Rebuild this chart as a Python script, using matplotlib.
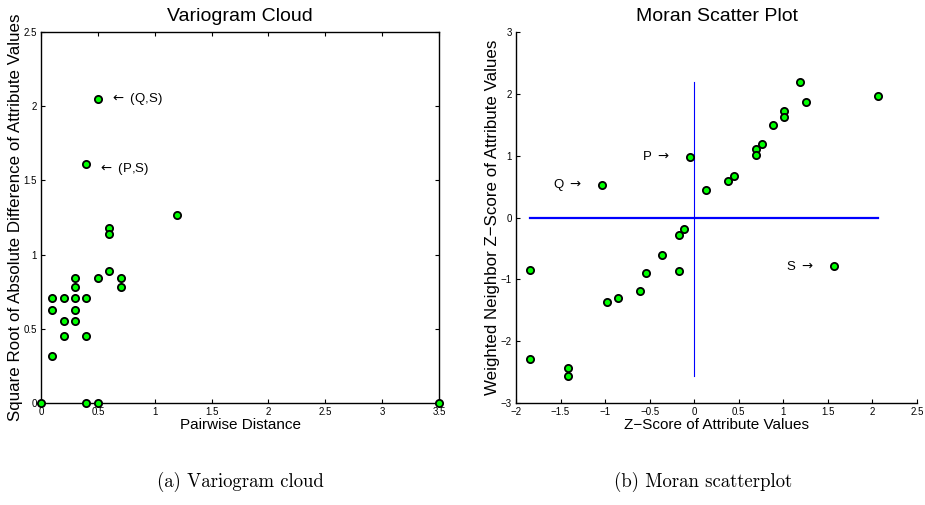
import matplotlib
matplotlib.use("Agg")
import matplotlib.pyplot as plt

plt.rcParams['font.family'] = ['Liberation Sans', 'DejaVu Sans']
plt.rcParams['axes.unicode_minus'] = True
plt.rcParams['mathtext.fontset'] = 'dejavusans'

# ---- Variogram cloud data ----
vario_dist = [0.0, 0.1, 0.1, 0.1, 0.2, 0.2, 0.2, 0.3, 0.3, 0.3, 0.3, 0.3,
              0.4, 0.4, 0.4, 0.4, 0.5, 0.5, 0.5, 0.6, 0.6, 0.6, 0.7, 0.7,
              1.2, 3.5]
vario_sqrtdiff = [0.0, 0.71, 0.63, 0.32, 0.71, 0.55, 0.45, 0.84, 0.78, 0.71, 0.63, 0.55,
                  1.61, 0.71, 0.45, 0.0, 2.05, 0.84, 0.0, 1.18, 1.14, 0.89, 0.84, 0.78,
                  1.27, 0.0]
vario_xticks = [0, 0.5, 1, 1.5, 2, 2.5, 3, 3.5]
vario_xticklabels = ['0', '0.5', '1', '1.5', '2', '2.5', '3', '3.5']
vario_yticks = [0, 0.5, 1, 1.5, 2, 2.5]
vario_yticklabels = ['0', '0.5', '1', '1.5', '2', '2.5']
vario_notes = [r'$\leftarrow$ (Q,S)', r'$\leftarrow$ (P,S)']
vario_note_x = [0.607, 0.499]
vario_note_y = [2.05, 1.577]

# ---- Moran scatter data ----
moran_z = [-1.847, -1.847, -1.416, -1.416, -0.983, -0.855, -0.612, -0.545, -0.362,
           -0.175, -0.111, -0.175, -1.039, -0.051, 0.136, 0.379, 0.446, 0.693,
           0.693, 0.760, 0.880, 1.003, 1.003, 1.190, 1.254, 2.059, 1.565]
moran_wz = [-0.854, -2.283, -2.434, -2.564, -1.372, -1.297, -1.194, -0.903, -0.607,
            -0.283, -0.181, -0.873, 0.520, 0.984, 0.450, 0.596, 0.671, 1.108,
            1.016, 1.183, 1.491, 1.722, 1.620, 2.186, 1.863, 1.965, -0.790]
moran_xticks = [-2, -1.5, -1, -0.5, 0, 0.5, 1, 1.5, 2, 2.5]
moran_xticklabels = ['\u22122', '\u22121.5', '\u22121', '\u22120.5', '0', '0.5', '1', '1.5', '2', '2.5']
moran_yticks = [-3, -2, -1, 0, 1, 2, 3]
moran_yticklabels = ['\u22123', '\u22122', '\u22121', '0', '1', '2', '3']
moran_notes = [r'Q $\rightarrow$', r'P $\rightarrow$', r'S $\rightarrow$']
moran_note_x = [-1.263, -0.279, 1.337]
moran_note_y = [0.520, 0.984, -0.790]

fig = plt.figure(figsize=(9.25, 5.05), dpi=100)

mk = dict(linestyle='none', marker='o', markersize=5.2, markerfacecolor='#00ff00',
          markeredgecolor='black', markeredgewidth=1.3, clip_on=False, zorder=3)

# ---------- Left: variogram cloud ----------
ax1 = fig.add_axes([41/925, 1-403/505, (439-41)/925, (403-32)/505])
ax1.plot(vario_dist, vario_sqrtdiff, **mk)
ax1.set_xlim(0, 3.5)
ax1.set_ylim(0, 2.5)
ax1.set_xticks(vario_xticks)
ax1.set_xticklabels(vario_xticklabels)
ax1.set_yticks(vario_yticks)
ax1.set_yticklabels(vario_yticklabels)
ax1.tick_params(direction='in', length=3, width=0.8, labelsize=7, pad=3,
                top=True, right=True)
for s in ax1.spines.values():
    s.set_linewidth(1.0)
for t, x, y in zip(vario_notes, vario_note_x, vario_note_y):
    ax1.text(x, y, t, fontsize=9.5, ha='left', va='center')
ax1.set_title('Variogram Cloud', fontsize=14, pad=8)
ax1.set_xlabel('Pairwise Distance', fontsize=11, labelpad=0.5)
ax1.set_ylabel('Square Root of Absolute Difference of Attribute Values', fontsize=12.2, labelpad=0.5)

# ---------- Right: Moran scatter ----------
ax2 = fig.add_axes([516/925, 1-403/505, (917-516)/925, (403-32)/505])
ax2.plot([min(moran_z), max(moran_z)], [0, 0], color='#0000ff', linewidth=1.6, zorder=2)
ax2.plot([0, 0], [min(moran_wz), max(moran_wz)], color='#0000ff', linewidth=0.8, zorder=2)
ax2.plot(moran_z, moran_wz, **mk)
ax2.set_xlim(-2, 2.5)
ax2.set_ylim(-3, 3)
ax2.set_xticks(moran_xticks)
ax2.set_xticklabels(moran_xticklabels)
ax2.set_yticks(moran_yticks)
ax2.set_yticklabels(moran_yticklabels)
ax2.spines['top'].set_visible(False)
ax2.spines['right'].set_visible(False)
for s in ax2.spines.values():
    s.set_linewidth(1.0)
ax2.tick_params(direction='in', length=3, width=0.8, labelsize=7, pad=3)
for t, x, y in zip(moran_notes, moran_note_x, moran_note_y):
    ax2.text(x, y, t, fontsize=9.5, ha='right', va='center')
ax2.set_title('Moran Scatter Plot', fontsize=14, pad=8)
ax2.set_xlabel('Z\u2212Score of Attribute Values', fontsize=11, labelpad=0.5)
ax2.set_ylabel('Weighted Neighbor Z\u2212Score of Attribute Values', fontsize=12.2, labelpad=0.5)

# ---------- captions ----------
fig.text(240/925, 1-482/505, '(a) Variogram cloud', fontsize=13.5, family='cmr10',
         ha='center', va='center')
fig.text(703/925, 1-482/505, '(b) Moran scatterplot', fontsize=13.5, family='cmr10',
         ha='center', va='center')

fig.savefig('out.png', dpi=100)
